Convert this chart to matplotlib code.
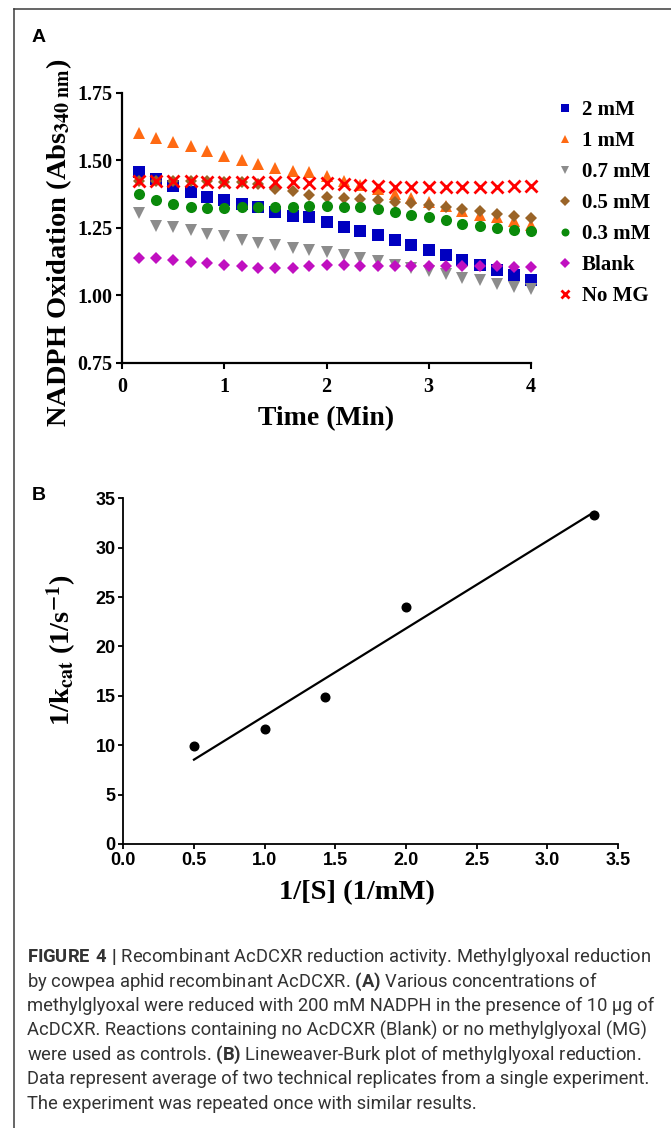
import matplotlib
matplotlib.use("Agg")
import numpy as np
import matplotlib.pyplot as plt
from matplotlib import font_manager
from matplotlib.lines import Line2D

# ---- data: panel A (absorbance vs time, one point every 10 s) ----
time_min = [0.17, 0.33, 0.5, 0.67, 0.83, 1.0, 1.17, 1.33, 1.5, 1.67, 1.83, 2.0,
            2.17, 2.33, 2.5, 2.67, 2.83, 3.0, 3.17, 3.33, 3.5, 3.67, 3.83, 4.0]
abs_2mM = [1.457, 1.432, 1.404, 1.383, 1.362, 1.352, 1.336, 1.325, 1.309, 1.295, 1.288, 1.270,
           1.253, 1.236, 1.223, 1.203, 1.187, 1.169, 1.149, 1.129, 1.110, 1.092, 1.075, 1.055]
abs_1mM = [1.599, 1.584, 1.567, 1.554, 1.535, 1.515, 1.499, 1.485, 1.472, 1.460, 1.455, 1.440,
           1.424, 1.409, 1.393, 1.376, 1.360, 1.347, 1.329, 1.313, 1.298, 1.288, 1.273, 1.261]
abs_07mM = [1.305, 1.257, 1.251, 1.241, 1.226, 1.219, 1.206, 1.195, 1.186, 1.175, 1.167, 1.159,
            1.148, 1.138, 1.126, 1.113, 1.101, 1.089, 1.079, 1.064, 1.055, 1.043, 1.031, 1.023]
abs_05mM = [1.424, 1.424, 1.424, 1.422, 1.422, 1.421, 1.418, 1.411, 1.394, 1.385, 1.371, 1.363,
            1.359, 1.357, 1.353, 1.344, 1.341, 1.335, 1.327, 1.319, 1.310, 1.302, 1.294, 1.286]
abs_03mM = [1.374, 1.352, 1.337, 1.325, 1.322, 1.322, 1.327, 1.326, 1.327, 1.328, 1.329, 1.329,
            1.326, 1.326, 1.319, 1.308, 1.298, 1.290, 1.277, 1.265, 1.255, 1.249, 1.243, 1.236]
abs_blank = [1.136, 1.136, 1.130, 1.123, 1.120, 1.111, 1.107, 1.102, 1.101, 1.101, 1.107, 1.110,
             1.111, 1.109, 1.109, 1.109, 1.109, 1.109, 1.109, 1.108, 1.108, 1.107, 1.106, 1.105]
abs_nomg = [1.423, 1.423, 1.423, 1.422, 1.421, 1.420, 1.420, 1.419, 1.419, 1.419, 1.417, 1.414,
            1.412, 1.409, 1.405, 1.401, 1.400, 1.400, 1.401, 1.402, 1.402, 1.402, 1.403, 1.405]

series_labels = ["2 mM", "1 mM", "0.7 mM", "0.5 mM", "0.3 mM", "Blank", "No MG"]
series_values = [abs_2mM, abs_1mM, abs_07mM, abs_05mM, abs_03mM, abs_blank, abs_nomg]
series_colors = ["#0000C0", "#FF6A13", "#8C8C8C", "#9A6428", "#0A8A0A", "#C010C0", "#FF0000"]
series_markers = ["s", "^", "v", "D", "o", "D", "x"]

# ---- data: panel B (Lineweaver-Burk) ----
inv_s = [0.5, 1.0, 1.43, 2.0, 3.33]
inv_kcat = [9.9, 11.6, 14.9, 24.0, 33.3]

caption = [
    r"$\mathbf{FIGURE\ 4\ |}$ Recombinant AcDCXR reduction activity. Methylglyoxal reduction",
    r"by cowpea aphid recombinant AcDCXR. $\mathbf{(A)}$ Various concentrations of",
    "methylglyoxal were reduced with 200 mM NADPH in the presence of 10 \u03bcg of",
    "AcDCXR. Reactions containing no AcDCXR (Blank) or no methylglyoxal (MG)",
    r"were used as controls. $\mathbf{(B)}$ Lineweaver-Burk plot of methylglyoxal reduction.",
    "Data represent average of two technical replicates from a single experiment.",
    "The experiment was repeated once with similar results.",
]


def pick(*names):
    avail = {f.name for f in font_manager.fontManager.ttflist}
    for n in names:
        if n in avail:
            return n
    return names[-1]


serif = "Liberation Serif"
sans = "Liberation Sans"
tick_sans = pick("Liberation Sans Narrow", "Liberation Sans")
cap_font = pick("Roboto", "Liberation Sans")

plt.rcParams["mathtext.fontset"] = "custom"
plt.rcParams["mathtext.rm"] = cap_font
plt.rcParams["mathtext.bf"] = cap_font + ":bold"

W, H = 671, 1128
fig = plt.figure(figsize=(W / 100, H / 100), dpi=100)


def fx(px):
    return px / W


def fy(py):
    return 1 - py / H


# page border (left and top)
fig.add_artist(Line2D([fx(14), fx(14)], [fy(8.5), 0], color="#3c3c3c", lw=1.1))
fig.add_artist(Line2D([fx(14), 1], [fy(8.5), fy(8.5)], color="#3c3c3c", lw=1.1))

# ---------------- panel A ----------------
axA = fig.add_axes([fx(122), fy(362.7), (531 - 122) / W, 270 / H])
handles = []
for lab, vals, col, mk in zip(series_labels, series_values, series_colors, series_markers):
    if mk == "x":
        h, = axA.plot(time_min, vals, ls="none", marker=mk, ms=8, mew=2.0,
                      color=col, label=lab, clip_on=False)
    else:
        ms = 6.6 if mk == "D" else 8
        h, = axA.plot(time_min, vals, ls="none", marker=mk, ms=ms, mew=0,
                      color=col, label=lab, clip_on=False)
    handles.append(h)

axA.set_xlim(0, 4)
axA.set_ylim(0.75, 1.75)
axA.set_xticks([0, 1, 2, 3, 4])
axA.set_yticks([0.75, 1.00, 1.25, 1.50, 1.75])
axA.set_yticklabels(["0.75", "1.00", "1.25", "1.50", "1.75"])
for s in ["top", "right"]:
    axA.spines[s].set_visible(False)
for s in ["left", "bottom"]:
    axA.spines[s].set_linewidth(1.6)
axA.tick_params(direction="out", length=4, width=1.5)
axA.tick_params(axis="x", pad=6)
axA.tick_params(axis="y", pad=3)
for lbl in axA.get_xticklabels() + axA.get_yticklabels():
    lbl.set_fontfamily(serif)
    lbl.set_fontweight("bold")
    lbl.set_fontsize(14.5)

axA.set_xlabel("Time (Min)", fontfamily=serif, fontweight="bold", fontsize=20, labelpad=7)
fig.text(fx(59), fy(243), r"NADPH Oxidation (Abs$_{\mathbf{340\ nm}}$)", rotation=90,
         ha="center", va="center", fontfamily=serif, fontweight="bold", fontsize=20.5,
         math_fontfamily="stix")

leg = axA.legend(handles=handles, loc="upper left", bbox_to_anchor=(fx(557), fy(100)),
                 bbox_transform=fig.transFigure, frameon=False, borderpad=0,
                 borderaxespad=0, handlelength=0.8, handletextpad=0.4,
                 labelspacing=0.53, markerscale=0.72,
                 prop={"family": serif, "weight": "bold", "size": 15})

fig.text(fx(39), fy(37), "A", ha="center", va="center", fontfamily=sans,
         fontweight="bold", fontsize=14)

# ---------------- panel B ----------------
axB = fig.add_axes([fx(123.3), fy(844), (618 - 123.3) / W, (844 - 498.3) / H])
axB.plot(inv_s, inv_kcat, ls="none", marker="o", ms=6.2, color="black", clip_on=False)
slope, icpt = np.polyfit(inv_s, inv_kcat, 1)
xs = np.array([min(inv_s), max(inv_s)])
axB.plot(xs, slope * xs + icpt, color="black", lw=1.6)

axB.set_xlim(0, 3.5)
axB.set_ylim(0, 35)
axB.set_xticks(np.arange(0, 3.51, 0.5))
axB.set_xticklabels([f"{v:.1f}" for v in np.arange(0, 3.51, 0.5)])
axB.set_yticks(range(0, 36, 5))
for s in ["top", "right"]:
    axB.spines[s].set_visible(False)
for s in ["left", "bottom"]:
    axB.spines[s].set_linewidth(1.3)
axB.tick_params(direction="out", length=3.5, width=1.3, pad=2)
for lbl in axB.get_xticklabels() + axB.get_yticklabels():
    lbl.set_fontfamily(tick_sans)
    lbl.set_fontweight("bold")
    lbl.set_fontsize(13)

fig.text(fx(357), fy(893), "1/[S] (1/mM)", ha="center", va="center",
         fontfamily=serif, fontweight="bold", fontsize=20.5)
fig.text(fx(62), fy(650), r"1/k$_{\mathbf{cat}}$ (1/s$^{\mathbf{-1}}$)", rotation=90,
         ha="center", va="center", fontfamily=serif, fontweight="bold", fontsize=20.5,
         math_fontfamily="stix")

fig.text(fx(39), fy(496), "B", ha="center", va="center", fontfamily=sans,
         fontweight="bold", fontsize=14)

# ---------------- caption ----------------
cap_size = 12
base_y = 962
texts = []
for i, line in enumerate(caption):
    t = fig.text(fx(27), fy(base_y + i * 24.5), line, ha="left", va="baseline",
                 fontfamily=cap_font, fontweight="normal", fontsize=cap_size,
                 color="#333333")
    texts.append(t)

# scale caption size so the first line spans the column width
fig.canvas.draw()
w0 = texts[0].get_window_extent().width
new_size = cap_size * 624.0 / w0
for t in texts:
    t.set_fontsize(new_size)

fig.savefig("out.png", dpi=100)
